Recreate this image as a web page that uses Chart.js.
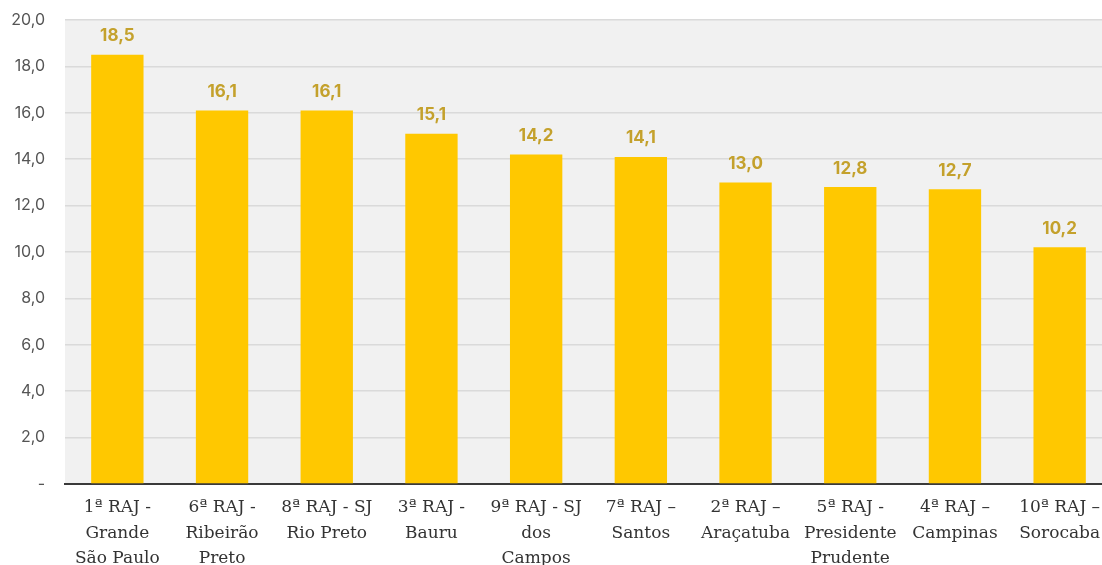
<!DOCTYPE html>
<html>
<head>
<meta charset="utf-8">
<script src="https://cdn.jsdelivr.net/npm/chart.js@4"></script>
<style>
  html, body { margin: 0; padding: 0; background: #fff; overflow: hidden; }
  #wrap { position: relative; width: 1112px; height: 565px; }
</style>
</head>
<body>
<div id="wrap"><canvas id="grafico"></canvas></div>
<script>
// ===== Dados =====
const regioes = [
  ['1ª RAJ -', 'Grande', 'São Paulo'],
  ['6ª RAJ -', 'Ribeirão', 'Preto'],
  ['8ª RAJ - SJ', 'Rio Preto'],
  ['3ª RAJ -', 'Bauru'],
  ['9ª RAJ - SJ', 'dos', 'Campos'],
  ['7ª RAJ –', 'Santos'],
  ['2ª RAJ –', 'Araçatuba'],
  ['5ª RAJ -', 'Presidente', 'Prudente'],
  ['4ª RAJ –', 'Campinas'],
  ['10ª RAJ –', 'Sorocaba']
];

const valores = [18.5, 16.1, 16.1, 15.1, 14.2, 14.1, 13.0, 12.8, 12.7, 10.2];

const yMin = 0;
const yMax = 20;
const yPasso = 2;

const fmt = v => v.toFixed(1).replace('.', ',');

// ===== Plugins =====
// fundo cinza da área do gráfico
const fundoArea = {
  id: 'fundoArea',
  beforeDraw(chart) {
    const { ctx, chartArea: a } = chart;
    ctx.save();
    ctx.fillStyle = '#f1f1f1';
    ctx.fillRect(a.left, a.top, a.right - a.left, a.bottom - a.top);
    ctx.restore();
  }
};

// rótulos de valor acima das barras
const rotulos = {
  id: 'rotulos',
  afterDatasetsDraw(chart) {
    const { ctx } = chart;
    const meta = chart.getDatasetMeta(0);
    ctx.save();
    ctx.font = 'bold 17px Inter, "Noto Sans", sans-serif';
    ctx.fillStyle = '#c4a12c';
    ctx.textAlign = 'center';
    ctx.textBaseline = 'bottom';
    meta.data.forEach((bar, i) => {
      ctx.fillText(fmt(valores[i]), bar.x, bar.y - 10);
    });
    ctx.restore();
  }
};

// ===== Gráfico =====
const ctx = document.getElementById('grafico');

new Chart(ctx, {
  type: 'bar',
  data: {
    labels: regioes,
    datasets: [{
      data: valores,
      backgroundColor: '#ffc800',
      borderWidth: 0,
      categoryPercentage: 1,
      barPercentage: 0.5
    }]
  },
  options: {
    responsive: true,
    maintainAspectRatio: false,
    animation: false,
    layout: { padding: { top: 20, left: 0, right: 0, bottom: 0 } },
    plugins: {
      legend: { display: false },
      tooltip: { enabled: false }
    },
    scales: {
      x: {
        grid: { display: false },
        border: { display: true, color: '#3a3a3a', width: 2 },
        ticks: {
          color: '#333',
          font: { family: '"DejaVu Serif", serif', size: 17, lineHeight: 1.5 },
          padding: 3,
          maxRotation: 0,
          autoSkip: false
        },
        afterFit(scale) { scale.height = 81; }
      },
      y: {
        min: yMin,
        max: yMax,
        grid: { color: '#dadada', drawTicks: false, lineWidth: 1.5 },
        border: { display: false },
        ticks: {
          stepSize: yPasso,
          color: '#555',
          padding: 20,
          font: { family: 'Inter, "Noto Sans", sans-serif', size: 16 },
          callback: v => (v === 0 ? '-' : fmt(v))
        },
        afterFit(scale) {
          scale.width = 65;
          scale.paddingTop = 0;
          scale.paddingBottom = 0;
        }
      }
    }
  },
  plugins: [fundoArea, rotulos]
});
</script>
</body>
</html>
